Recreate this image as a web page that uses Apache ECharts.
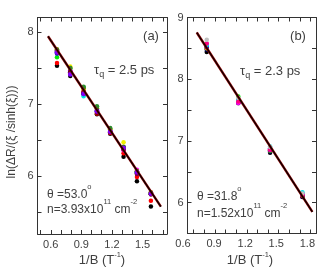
<!DOCTYPE html>
<html><head><meta charset="utf-8">
<script src="https://cdn.jsdelivr.net/npm/echarts@6/dist/echarts.min.js"></script>
<style>html,body{margin:0;padding:0;background:#fff}#c{width:318px;height:270px}</style>
</head><body><div id="c"></div>
<script>
// ---- data ----
const xTickLabelsA = [0.6, 0.9, 1.2, 1.5];
const xTickLabelsB = [0.6, 0.9, 1.2, 1.5, 1.8];
const yTickLabelsA = [6, 7, 8];
const yTickLabelsB = [6, 7, 8, 9];
const xA = [0.661, 0.791, 0.922, 1.053, 1.183, 1.314, 1.445, 1.582];
const xB = [0.823, 1.12, 1.419, 1.723];
const fitA = [[0.573, 7.94], [1.68, 5.58]];
const fitB = [[0.729, 8.757], [1.817, 5.85]];
const seriesA = {
  black:   [7.53, 7.39, 7.14, 6.86, 6.59, 6.27, 5.93, 5.58],
  red:     [7.57, 7.42, 7.16, 6.87, 6.60, 6.32, 5.99, 5.66],
  green:   [7.65, 7.49, 7.23, 6.96, 6.65, 6.38, 6.06, 5.75],
  blue:    [7.70, 7.44, 7.15, 6.90, 6.62, 6.40, 6.05, 5.77],
  cyan:    [7.72, 7.46, 7.11, 6.92, 6.63, 6.37, 6.05, 5.77],
  magenta: [7.74, 7.47, 7.18, 6.92, 6.64, 6.36, 6.09, 5.78],
  yellow:  [7.75, 7.52, 7.20, 6.94, 6.65, 6.47, 6.07, 5.78],
  olive:   [7.76, 7.50, 7.22, 6.94, 6.66, 6.41, 6.07, 5.77],
  navy:    [7.74, 7.45, 7.14, 6.91, 6.62, 6.40, 6.05, 5.76],
  wine:    [7.73, 7.44, 7.17, 6.88, 6.61, 6.37, 6.03, 5.75],
  dkgreen: [7.75, 7.50, 7.24, 6.97, 6.67, 6.40, 6.07, 5.77],
  purple:  [7.71, 7.42, 7.15, 6.89, 6.61, 6.38, 6.04, 5.75],
  violet:  [7.72, 7.41, 7.14, 6.90, 6.62, 6.39, 6.06, 5.76]
};
const seriesB = {
  black:   [8.44, 7.62, 6.81, 6.09],
  navy:    [8.48, 7.63, 6.83, 6.10],
  red:     [8.52, 7.64, 6.84, 6.11],
  green:   [8.50, 7.72, 6.84, 6.12],
  orange:  [8.50, 7.65, 6.86, 6.12],
  purple:  [8.52, 7.61, 6.85, 6.12],
  magenta: [8.57, 7.62, 6.86, 6.13],
  blue:    [8.53, 7.66, 6.88, 6.14],
  cyan:    [8.55, 7.66, 6.91, 6.17],
  pink:    [8.58, 7.64, 6.86, 6.13],
  gray:    [8.64, 7.70, 6.90, 6.15]
};
const colors = {
  black:'#000000', red:'#ff0000', green:'#00ee00', blue:'#0000ff', cyan:'#00e5e5',
  magenta:'#ff00ff', yellow:'#f0f000', olive:'#808000', navy:'#000080', wine:'#800000',
  dkgreen:'#2e8b2e', purple:'#800080', violet:'#8000ff', orange:'#ff8000', pink:'#ff0080', gray:'#c0c0c0'
};

const txt = '#404040';
const F = 'Liberation Sans, Arial, sans-serif';
const axisCol = '#333';
function range(a, b, s) { const r = []; for (let v = a; v <= b + 1e-9; v += s) r.push(+v.toFixed(2)); return r; }

function xAxes(gi, min, max, labels, ticks, showLabels) {
  return [
    { type:'value', gridIndex:gi, position:'bottom', min, max,
      axisLine:{show:true, onZero:false, lineStyle:{color:axisCol, width:1}},
      axisTick:{show:true, inside:true, length:4, customValues:ticks, lineStyle:{color:axisCol}},
      axisLabel:{show:showLabels, customValues:labels, margin:5, color:txt, fontSize:11, fontFamily:F,
        formatter:v => v.toFixed(1)},
      splitLine:{show:false} },
    { type:'value', gridIndex:gi, position:'top', min, max,
      axisLine:{show:true, onZero:false, lineStyle:{color:axisCol, width:1}},
      axisTick:{show:true, inside:true, length:4, customValues:ticks, lineStyle:{color:axisCol}},
      axisLabel:{show:false}, splitLine:{show:false} }
  ];
}
function yAxes(gi, min, max, labels, ticks) {
  return [
    { type:'value', gridIndex:gi, position:'left', min, max,
      axisLine:{show:true, onZero:false, lineStyle:{color:axisCol, width:1}},
      axisTick:{show:true, inside:true, length:4, customValues:ticks, lineStyle:{color:axisCol}},
      axisLabel:{show:true, customValues:labels, margin:4, color:txt, fontSize:11, fontFamily:F},
      splitLine:{show:false} },
    { type:'value', gridIndex:gi, position:'right', min, max,
      axisLine:{show:true, onZero:false, lineStyle:{color:axisCol, width:1}},
      axisTick:{show:true, inside:true, length:4, customValues:ticks, lineStyle:{color:axisCol}},
      axisLabel:{show:false}, splitLine:{show:false} }
  ];
}

const series = [];
function addScatter(obj, xs, xi, yi) {
  Object.keys(obj).forEach(k => {
    series.push({ type:'scatter', xAxisIndex:xi, yAxisIndex:yi, symbol:'circle', symbolSize:4.5,
      itemStyle:{color:colors[k], opacity:1}, data: xs.map((x, i) => [x, obj[k][i]]), z:3 });
  });
}
function addFit(pts, xi, yi) {
  series.push({ type:'line', xAxisIndex:xi, yAxisIndex:yi, data:pts, showSymbol:false, symbol:'none',
    lineStyle:{color:'#8b0000', width:2.4}, z:4, silent:true });
  series.push({ type:'line', xAxisIndex:xi, yAxisIndex:yi, data:pts, showSymbol:false, symbol:'none',
    lineStyle:{color:'#000000', width:1.1}, z:5, silent:true });
}
addScatter(seriesA, xA, 0, 0);
addFit(fitA, 0, 0);
addScatter(seriesB, xB, 2, 2);
addFit(fitB, 2, 2);

const richBase = {
  a:{fontSize:12, lineHeight:18, verticalAlign:'bottom', fontFamily:F, fill:txt, color:txt},
  t:{fontSize:13, lineHeight:18, fontFamily:F, fill:txt, color:txt},
  y:{fontSize:12, lineHeight:16, fontFamily:F, fill:txt, color:txt},
  sup:{fontSize:7.5, lineHeight:8, verticalAlign:'top', fontFamily:F, fill:txt, color:txt},
  sub:{fontSize:9, lineHeight:9, verticalAlign:'bottom', fontFamily:F, fill:txt, color:txt}
};
function label(x, y, text, align, extra) {
  return Object.assign({ type:'text', x, y, style:{ text, rich:richBase, fill:txt,
    font:'12px ' + F, align:align || 'left', verticalAlign:'middle' } }, extra || {});
}

// panel (b): tick labels are drawn slightly left of the frame in the original,
// so they come from a label-only axis on a helper grid offset by a few pixels
const bMin = 0.642, bMax = 1.851;

const option = {
  animation:false,
  backgroundColor:'#fff',
  grid:[
    {left:37.5, top:17.5, width:129.5, height:216.5},
    {left:187.5, top:17.5, width:128.5, height:216},
    {left:183, top:17.5, width:132.9, height:216}
  ],
  xAxis:[...xAxes(0, 0.47, 1.74, xTickLabelsA, range(0.5, 1.7, 0.1), true),
         ...xAxes(1, bMin, bMax, xTickLabelsB, range(0.7, 1.8, 0.1), false),
         { type:'value', gridIndex:2, position:'bottom', min:0.6, max:bMax,
           axisLine:{show:false}, axisTick:{show:false}, splitLine:{show:false},
           axisLabel:{show:true, customValues:xTickLabelsB, margin:5, color:txt, fontSize:11, fontFamily:F,
             formatter:v => v.toFixed(1)} }],
  yAxis:[...yAxes(0, 5.2, 8.2, yTickLabelsA, range(5.5, 8.0, 0.5)),
         ...yAxes(1, 5.5, 9.0, yTickLabelsB, range(6.0, 9.0, 0.5)),
         { type:'value', gridIndex:2, min:5.5, max:9.0, show:false }],
  series,
  graphic:[
    label(151, 36, '{t|(a)}', 'center'),
    label(298, 36, '{t|(b)}', 'center'),
    label(94, 70, '{t|τ}{sub|q}{t| = 2.5 ps}'),
    label(240, 71, '{t|τ}{sub|q}{t| = 2.3 ps}'),
    label(47, 192, '{a|θ =53.0}{sup|o}'),
    label(47, 207, '{a|n=3.93x10}{sup|11}{a| cm}{sup|-2}'),
    label(197, 194, '{a|θ =31.8}{sup|o}'),
    label(197, 211, '{a|n=1.52x10}{sup|11}{a| cm}{sup|-2}'),
    label(102, 260, '{t|1/B (T}{sup|-1}{t|)}', 'center'),
    label(250, 260, '{t|1/B (T}{sup|-1}{t|)}', 'center'),
    label(12, 132, '{y|ln(ΔR/(ξ /sinh(ξ)))}', 'center', {rotation:Math.PI/2})
  ]
};
const chart = echarts.init(document.getElementById('c'), null, {renderer:'canvas'});
chart.setOption(option);
</script></body></html>
